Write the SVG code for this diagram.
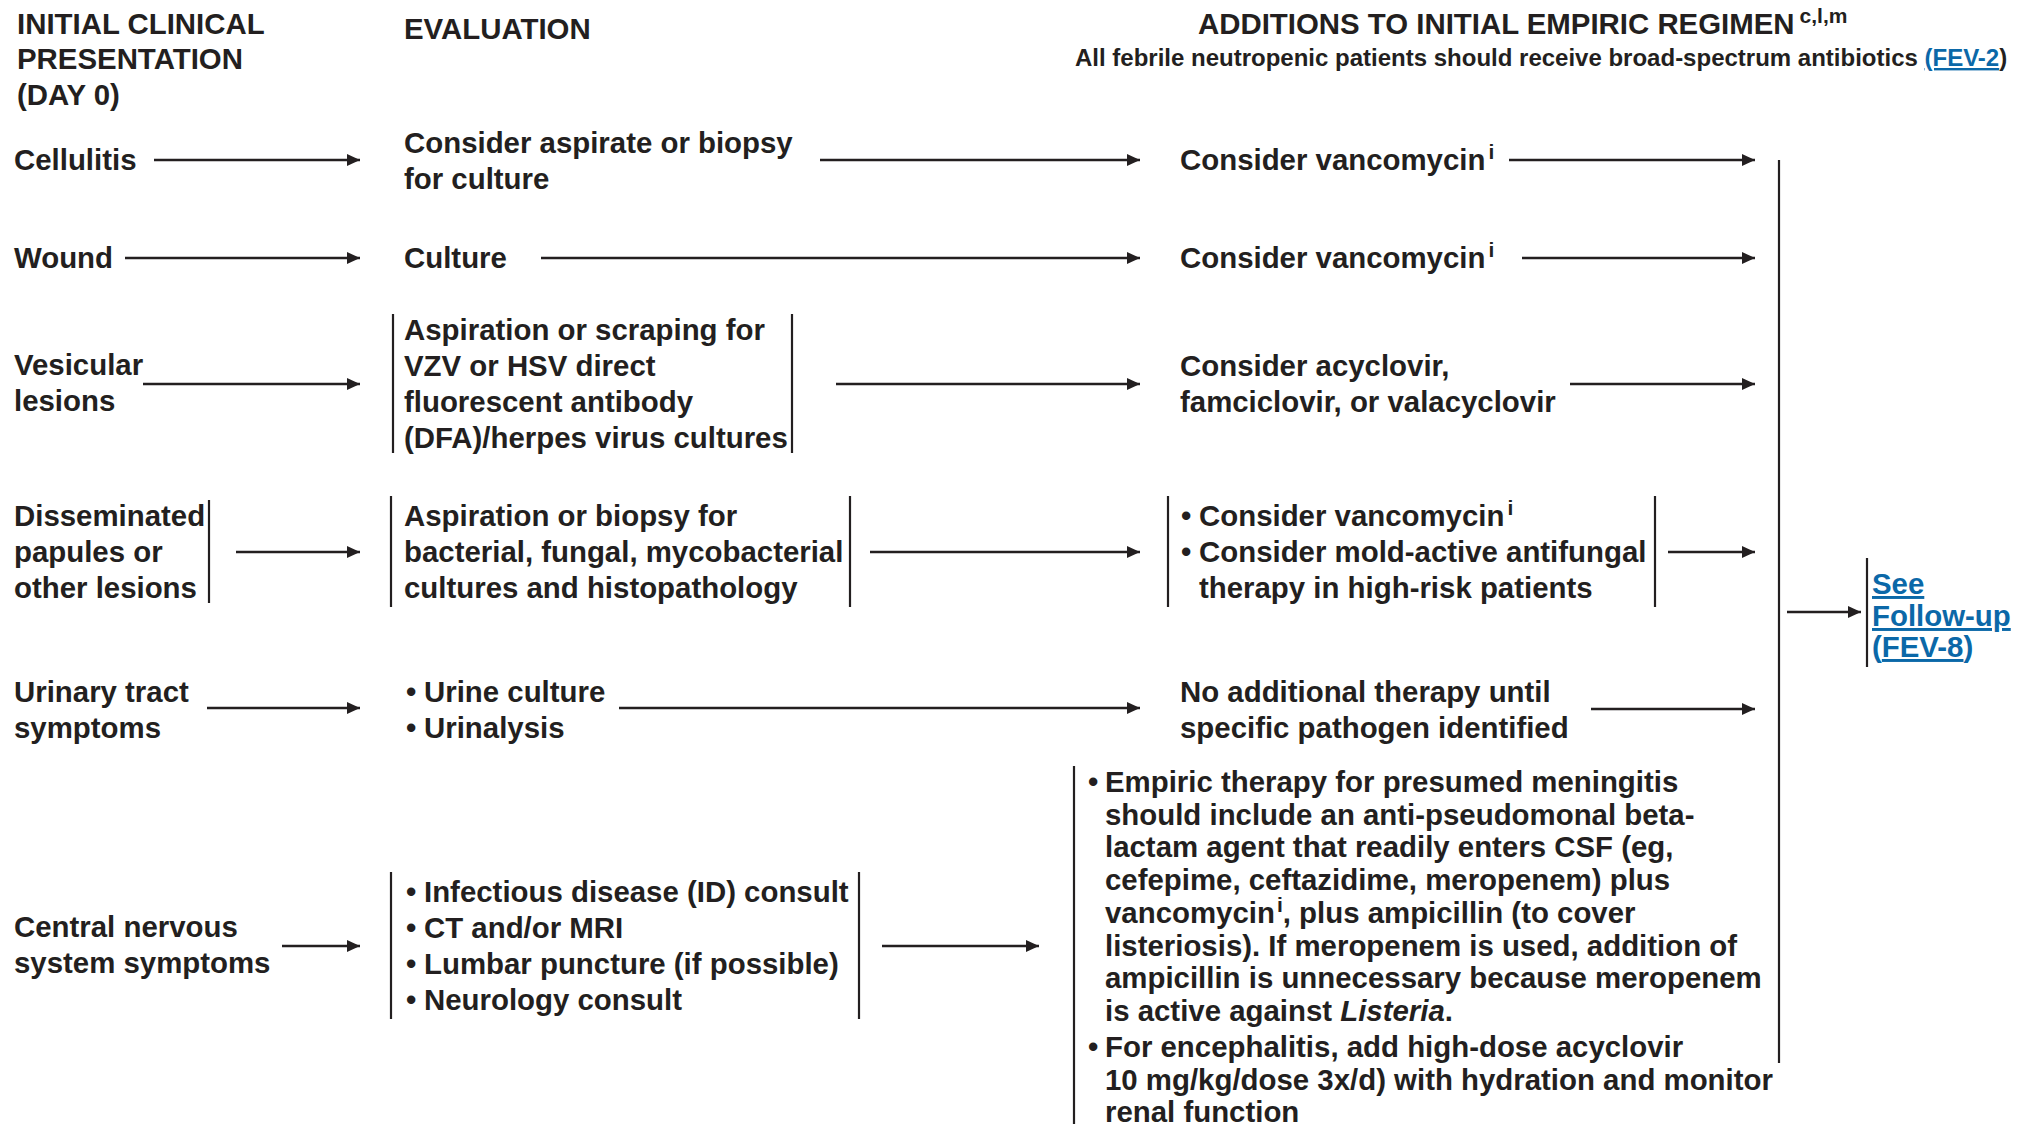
<svg xmlns="http://www.w3.org/2000/svg" width="2026" height="1124" viewBox="0 0 2026 1124">
  <defs>
    <marker id="head" viewBox="0 0 13 12" refX="13" refY="6" markerWidth="13" markerHeight="12" markerUnits="userSpaceOnUse" orient="auto">
      <path d="M0,0 L13,6 L0,12 Z" fill="#231f20"/>
    </marker>
    <style>
      text { font-family: "Liberation Sans", Arial, Helvetica, sans-serif; font-weight: bold; font-size: 29.4px; fill: #231f20; }
      .sub { font-size: 24px; }
      .sup { font-size: 21px; }
      .link { fill: #0b68a8; }
      .u { text-decoration: underline; }
      .arrow { stroke: #231f20; stroke-width: 2.7; fill: none; marker-end: url(#head); }
      .bar { stroke: #231f20; stroke-width: 2.2; fill: none; }
    </style>
  </defs>
  <rect width="2026" height="1124" fill="#ffffff"/>

  <!-- column headings -->
  <g id="head-presentation">
    <text x="17" y="34">INITIAL CLINICAL</text>
    <text x="17" y="69">PRESENTATION</text>
    <text x="17" y="105">(DAY 0)</text>
  </g>
  <g id="head-evaluation">
    <text x="404" y="39">EVALUATION</text>
  </g>
  <g id="head-additions">
    <text x="1198" y="34">ADDITIONS TO INITIAL EMPIRIC REGIMEN<tspan class="sup" dx="5" dy="-11">c,l,m</tspan></text>
    <text class="sub" x="1075" y="66">All febrile neutropenic patients should receive broad-spectrum antibiotics <tspan class="link u">(FEV-2</tspan>)</text>
  </g>

  <!-- row 1: cellulitis -->
  <g id="cellulitis"><text x="14" y="170">Cellulitis</text></g>
  <g id="eval-cellulitis">
    <text x="404" y="153">Consider aspirate or biopsy</text>
    <text x="404" y="189">for culture</text>
  </g>
  <g id="add-cellulitis"><text x="1180" y="170">Consider vancomycin<tspan class="sup" dx="3" dy="-11">i</tspan></text></g>

  <!-- row 2: wound -->
  <g id="wound"><text x="14" y="268">Wound</text></g>
  <g id="eval-wound"><text x="404" y="268">Culture</text></g>
  <g id="add-wound"><text x="1180" y="268">Consider vancomycin<tspan class="sup" dx="3" dy="-11">i</tspan></text></g>

  <!-- row 3: vesicular lesions -->
  <g id="vesicular">
    <text x="14" y="375">Vesicular</text>
    <text x="14" y="411">lesions</text>
  </g>
  <g id="eval-vesicular">
    <line class="bar" x1="393" y1="314" x2="393" y2="453"/>
    <line class="bar" x1="792" y1="314" x2="792" y2="453"/>
    <text x="404" y="340">Aspiration or scraping for</text>
    <text x="404" y="376">VZV or HSV direct</text>
    <text x="404" y="412">fluorescent antibody</text>
    <text x="404" y="448">(DFA)/herpes virus cultures</text>
  </g>
  <g id="add-vesicular">
    <text x="1180" y="376">Consider acyclovir,</text>
    <text x="1180" y="412">famciclovir, or valacyclovir</text>
  </g>

  <!-- row 4: disseminated papules -->
  <g id="disseminated">
    <line class="bar" x1="209" y1="500" x2="209" y2="603"/>
    <text x="14" y="526">Disseminated</text>
    <text x="14" y="562">papules or</text>
    <text x="14" y="598">other lesions</text>
  </g>
  <g id="eval-disseminated">
    <line class="bar" x1="391" y1="496" x2="391" y2="607"/>
    <line class="bar" x1="850" y1="496" x2="850" y2="607"/>
    <text x="404" y="526">Aspiration or biopsy for</text>
    <text x="404" y="562">bacterial, fungal, mycobacterial</text>
    <text x="404" y="598">cultures and histopathology</text>
  </g>
  <g id="add-disseminated">
    <line class="bar" x1="1168" y1="496" x2="1168" y2="607"/>
    <line class="bar" x1="1655" y1="496" x2="1655" y2="607"/>
    <text x="1181" y="526">•</text>
    <text x="1199" y="526">Consider vancomycin<tspan class="sup" dx="3" dy="-11">i</tspan></text>
    <text x="1181" y="562">•</text>
    <text x="1199" y="562">Consider mold-active antifungal</text>
    <text x="1199" y="598">therapy in high-risk patients</text>
  </g>

  <!-- row 5: urinary tract -->
  <g id="urinary">
    <text x="14" y="702">Urinary tract</text>
    <text x="14" y="738">symptoms</text>
  </g>
  <g id="eval-urinary">
    <text x="406" y="702">•</text>
    <text x="424" y="702">Urine culture</text>
    <text x="406" y="738">•</text>
    <text x="424" y="738">Urinalysis</text>
  </g>
  <g id="add-urinary">
    <text x="1180" y="702">No additional therapy until</text>
    <text x="1180" y="738">specific pathogen identified</text>
  </g>

  <!-- row 6: central nervous system -->
  <g id="cns">
    <text x="14" y="937">Central nervous</text>
    <text x="14" y="973">system symptoms</text>
  </g>
  <g id="eval-cns">
    <line class="bar" x1="391" y1="872" x2="391" y2="1019"/>
    <line class="bar" x1="859" y1="872" x2="859" y2="1019"/>
    <text x="406" y="902">•</text>
    <text x="424" y="902">Infectious disease (ID) consult</text>
    <text x="406" y="938">•</text>
    <text x="424" y="938">CT and/or MRI</text>
    <text x="406" y="974">•</text>
    <text x="424" y="974">Lumbar puncture (if possible)</text>
    <text x="406" y="1010">•</text>
    <text x="424" y="1010">Neurology consult</text>
  </g>
  <g id="add-cns">
    <line class="bar" x1="1074" y1="766" x2="1074" y2="1124"/>
    <text x="1088" y="792">•</text>
    <text x="1105" y="792">Empiric therapy for presumed meningitis</text>
    <text x="1105" y="825">should include an anti-pseudomonal beta-</text>
    <text x="1105" y="857">lactam agent that readily enters CSF (eg,</text>
    <text x="1105" y="890">cefepime, ceftazidime, meropenem) plus</text>
    <text x="1105" y="923">vancomycin<tspan class="sup" dx="2" dy="-11">i</tspan><tspan dy="11">, plus ampicillin (to cover</tspan></text>
    <text x="1105" y="956">listeriosis). If meropenem is used, addition of</text>
    <text x="1105" y="988">ampicillin is unnecessary because meropenem</text>
    <text x="1105" y="1021">is active against <tspan font-style="italic">Listeria</tspan>.</text>
    <text x="1088" y="1057">•</text>
    <text x="1105" y="1057">For encephalitis, add high-dose acyclovir</text>
    <text x="1105" y="1090">10 mg/kg/dose 3x/d) with hydration and monitor</text>
    <text x="1105" y="1122">renal function</text>
  </g>

  <!-- follow-up reference -->
  <g id="follow-up">
    <line class="bar" x1="1867" y1="558" x2="1867" y2="667"/>
    <text class="link" x="1872" y="594"><tspan class="u">See</tspan></text>
    <text class="link" x="1872" y="626"><tspan class="u">Follow-up</tspan></text>
    <text class="link" x="1872" y="657">(<tspan class="u">FEV-8</tspan>)</text>
  </g>

  <!-- connectors -->
  <g id="connectors">
    <line class="arrow" x1="154" y1="160" x2="360" y2="160"/>
    <line class="arrow" x1="820" y1="160" x2="1140" y2="160"/>
    <line class="arrow" x1="1509" y1="160" x2="1755" y2="160"/>

    <line class="arrow" x1="125" y1="258" x2="360" y2="258"/>
    <line class="arrow" x1="541" y1="258" x2="1140" y2="258"/>
    <line class="arrow" x1="1522" y1="258" x2="1755" y2="258"/>

    <line class="arrow" x1="143" y1="384" x2="360" y2="384"/>
    <line class="arrow" x1="836" y1="384" x2="1140" y2="384"/>
    <line class="arrow" x1="1570" y1="384" x2="1755" y2="384"/>

    <line class="arrow" x1="236" y1="552" x2="360" y2="552"/>
    <line class="arrow" x1="870" y1="552" x2="1140" y2="552"/>
    <line class="arrow" x1="1668" y1="552" x2="1755" y2="552"/>

    <line class="arrow" x1="207" y1="708" x2="360" y2="708"/>
    <line class="arrow" x1="619" y1="708" x2="1140" y2="708"/>
    <line class="arrow" x1="1591" y1="709" x2="1755" y2="709"/>

    <line class="arrow" x1="282" y1="946" x2="360" y2="946"/>
    <line class="arrow" x1="882" y1="946" x2="1039" y2="946"/>

    <line class="bar" x1="1779" y1="160" x2="1779" y2="1063"/>
    <line class="arrow" x1="1787" y1="612" x2="1861" y2="612"/>
  </g>
</svg>
